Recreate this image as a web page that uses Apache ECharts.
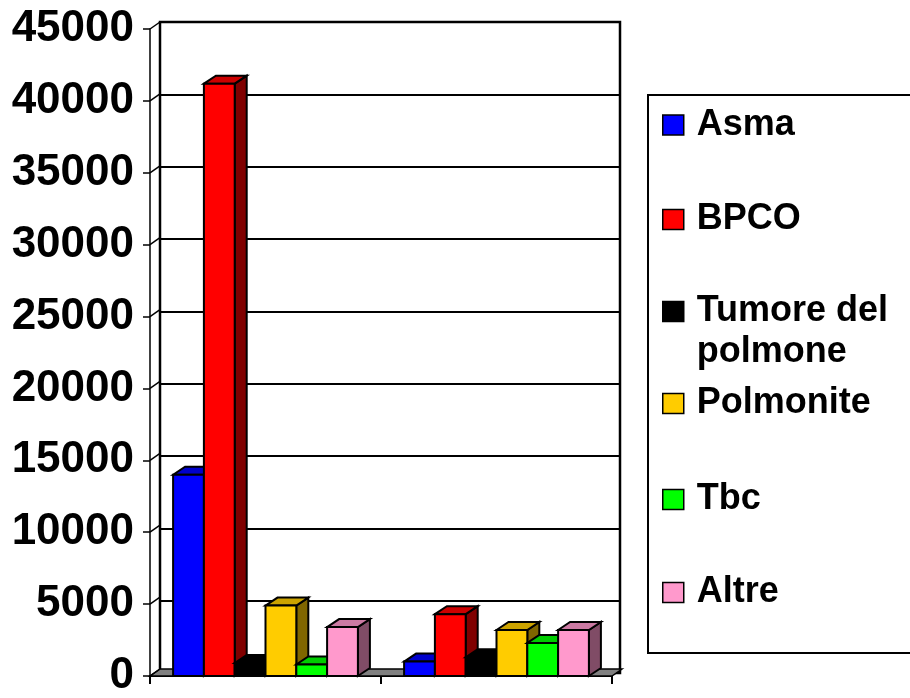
<!DOCTYPE html>
<html>
<head>
<meta charset="utf-8">
<script src="https://cdn.jsdelivr.net/npm/echarts/dist/echarts.min.js"></script>
<style>
html,body{margin:0;padding:0;background:#fff;}
#chart{width:910px;height:698px;}
</style>
</head>
<body>
<div id="chart"></div>
<script>
// ---- data ----
const categories = ['Gruppo 1', 'Gruppo 2'];
const seriesNames = ['Asma', 'BPCO', 'Tumore del polmone', 'Polmonite', 'Tbc', 'Altre'];
const asma = [14000, 1000];
const bpco = [41200, 4300];
const tumore = [900, 1300];
const polmonite = [4900, 3200];
const tbc = [800, 2300];
const altre = [3400, 3200];
const yTicks = [0, 5000, 10000, 15000, 20000, 25000, 30000, 35000, 40000, 45000];

// ---- styles ----
const allValues = [asma, bpco, tumore, polmonite, tbc, altre];
const frontColors = ['#0000FF', '#FF0000', '#000000', '#FFCC00', '#00FF00', '#FF99CC'];
const topColors = ['#0000CC', '#CC0000', '#000000', '#CCA300', '#00CC00', '#CC7AA3'];
const sideColors = ['#000080', '#800000', '#000000', '#806600', '#008000', '#804C66'];
const legendCenters = [122.5, 217, 309.5, 401, 497, 590];
const WALL = [10, -7];
const BAR = [12, -8];
const FONT = '"Liberation Sans", Arial, sans-serif';

const chart = echarts.init(document.getElementById('chart'));

const frameSeries = {
  type: 'custom',
  xAxisIndex: 0, yAxisIndex: 0,
  silent: true,
  data: yTicks.map(v => [0, v]),
  renderItem: function (params, api) {
    const v = api.value(1);
    const p = api.coord([0, v]);
    const band = api.size([1, 0])[0];
    const x = p[0] - band / 2;
    const y = p[1];
    const children = [];
    if (v === 0) {
      const xr = api.coord([categories.length - 1, 0])[0] + band / 2;
      children.push({
        type: 'polygon',
        shape: { points: [[x, y], [xr, y], [xr + WALL[0], y + WALL[1]], [x + WALL[0], y + WALL[1]]] },
        style: { fill: '#808080', stroke: '#000', lineWidth: 1.5 }
      });
    }
    children.push({
      type: 'line',
      shape: { x1: x, y1: y, x2: x + WALL[0], y2: y + WALL[1] },
      style: { stroke: '#000', lineWidth: 1.5 }
    });
    return { type: 'group', children: children };
  }
};

function makeBarSeries(si) {
  return {
    type: 'custom',
    name: seriesNames[si],
    xAxisIndex: 0, yAxisIndex: 0,
    itemStyle: { color: frontColors[si] },
    data: allValues[si].map((v, i) => [i, v]),
    renderItem: function (params, api) {
      const ci = api.value(0);
      const v = api.value(1);
      const top = api.coord([ci, v]);
      const base = api.coord([ci, 0]);
      const band = api.size([1, 0])[0];
      const w = band * 0.8 / seriesNames.length;
      const x0 = top[0] - band * 0.4 + si * w;
      const y1 = top[1], y0 = base[1];
      const dx = BAR[0], dy = BAR[1];
      const st = { stroke: '#000', lineWidth: 2, lineJoin: 'miter' };
      return {
        type: 'group',
        children: [
          { type: 'polygon', shape: { points: [[x0 + w, y1], [x0 + w + dx, y1 + dy], [x0 + w + dx, y0 + dy], [x0 + w, y0]] },
            style: Object.assign({ fill: sideColors[si] }, st) },
          { type: 'polygon', shape: { points: [[x0, y1], [x0 + dx, y1 + dy], [x0 + w + dx, y1 + dy], [x0 + w, y1]] },
            style: Object.assign({ fill: topColors[si] }, st) },
          { type: 'rect', shape: { x: x0, y: y1, width: w, height: y0 - y1 },
            style: Object.assign({ fill: frontColors[si] }, st) }
        ]
      };
    }
  };
}

const legends = seriesNames.map((name, si) => {
  const twoLine = name === 'Tumore del polmone';
  return {
    data: [name],
    orient: 'vertical',
    left: 662,
    top: twoLine ? legendCenters[si] - 61.5 : legendCenters[si] - 20,
    padding: 0,
    itemWidth: 21,
    itemHeight: 20,
    icon: 'rect',
    selectedMode: false,
    itemStyle: { borderColor: '#000', borderWidth: 1.5 },
    formatter: twoLine ? function () { return '\nTumore del\npolmone'; } : '{name}',
    textStyle: { fontSize: 36, fontWeight: 'bold', fontFamily: FONT, color: '#000', lineHeight: 41, padding: [4, 0, 0, 8] }
  };
});

const option = {
  backgroundColor: '#fff',
  animation: false,
  grid: [
    { left: 150, right: 298, top: 29, bottom: 18 },
    { left: 160, right: 290, top: 22, bottom: 25, show: true, borderColor: '#000', borderWidth: 2.5, backgroundColor: 'rgba(0,0,0,0)' }
  ],
  xAxis: [
    { type: 'category', gridIndex: 0, data: categories, boundaryGap: true,
      axisLine: { show: true, lineStyle: { color: '#000', width: 2 } },
      axisTick: { show: true, alignWithLabel: false, length: 8, lineStyle: { color: '#000', width: 2 } },
      axisLabel: { show: false }, splitLine: { show: false } },
    { type: 'category', gridIndex: 1, data: categories, show: false }
  ],
  yAxis: [
    { type: 'value', gridIndex: 0, min: 0, max: 45000, interval: 5000,
      axisLine: { show: true, lineStyle: { color: '#000', width: 1.5 } },
      axisTick: { show: true, length: 7, lineStyle: { color: '#000', width: 1.5 } },
      axisLabel: { show: true, margin: 16, color: '#000', fontSize: 44, fontWeight: 'bold', fontFamily: FONT,
        formatter: function (v) { return yTicks.indexOf(v) >= 0 ? String(v) : ''; } },
      splitLine: { show: false } },
    { type: 'value', gridIndex: 1, min: 0, max: 45000, interval: 5000,
      axisLine: { show: false }, axisTick: { show: false }, axisLabel: { show: false },
      splitLine: { show: true, lineStyle: { color: '#000', width: 2 } } }
  ],
  legend: legends,
  graphic: [
    { type: 'rect', left: 647, top: 94, shape: { width: 300, height: 558 },
      style: { fill: 'rgba(0,0,0,0)', stroke: '#000', lineWidth: 2 }, z: -1 }
  ],
  series: [frameSeries].concat(seriesNames.map((n, i) => makeBarSeries(i)))
};

chart.setOption(option);
</script>
</body>
</html>
